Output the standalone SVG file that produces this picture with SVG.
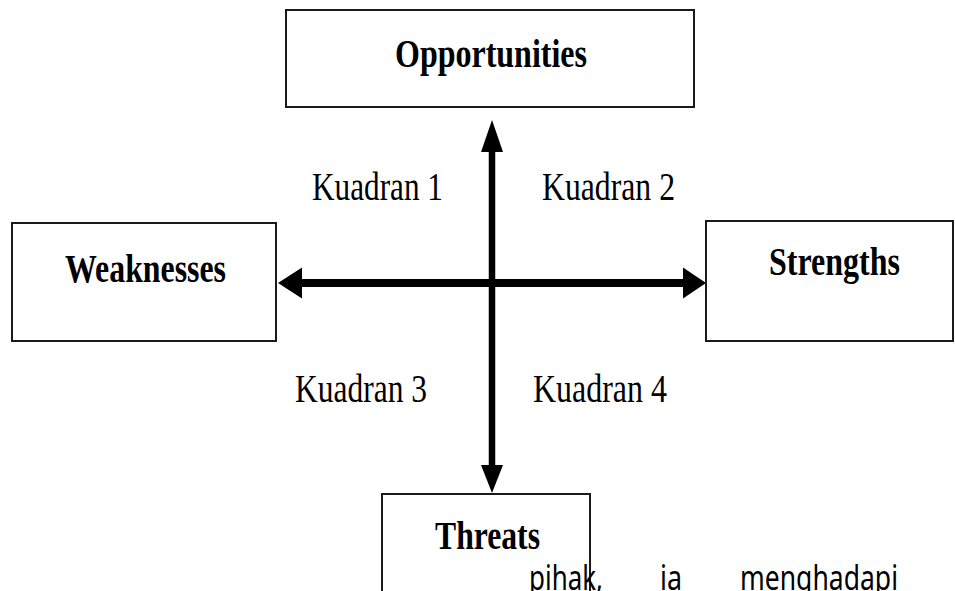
<svg xmlns="http://www.w3.org/2000/svg" width="955" height="591" viewBox="0 0 955 591">
<style>
.box{fill:#fff;stroke:#1a1a1a;stroke-width:2}
.lbl{font-family:"Liberation Serif","Times New Roman",serif;font-weight:bold;font-size:41px;fill:#000}
.q{font-family:"Liberation Serif","Times New Roman",serif;font-size:41px;fill:#000}
.body{font-family:"Noto Sans","Open Sans",sans-serif;font-size:34px;fill:#000}
.shaft{stroke:#000;fill:none}
.head{fill:#000}
</style>
<rect width="955" height="591" fill="#fff"/>
<g id="connectors">
<line class="shaft" x1="492" y1="140" x2="492" y2="473" stroke-width="6.5"/>
<line class="shaft" x1="296" y1="283" x2="688" y2="283" stroke-width="8"/>
<polygon class="head" points="492,120 481,152 503,152"/>
<polygon class="head" points="492,493 481,465 503,465"/>
<polygon class="head" points="278,283 302,267.5 302,298.5"/>
<polygon class="head" points="706,283 683,267.5 683,298.5"/>
</g>
<g id="opportunities">
<rect class="box" x="286" y="10" width="408" height="97"/>
<text class="lbl" x="395" y="67" textLength="192" lengthAdjust="spacingAndGlyphs">Opportunities</text>
</g>
<g id="weaknesses">
<rect class="box" x="12" y="223" width="264" height="118"/>
<text class="lbl" x="65" y="282" textLength="161" lengthAdjust="spacingAndGlyphs">Weaknesses</text>
</g>
<g id="strengths">
<rect class="box" x="706" y="221" width="247" height="120"/>
<text class="lbl" x="769" y="275" textLength="131" lengthAdjust="spacingAndGlyphs">Strengths</text>
</g>
<g id="threats">
<rect class="box" x="382" y="494" width="208" height="110"/>
<text class="lbl" x="435" y="549" textLength="105" lengthAdjust="spacingAndGlyphs">Threats</text>
</g>
<g id="quadrants">
<text class="q" x="312" y="200" textLength="131" lengthAdjust="spacingAndGlyphs">Kuadran 1</text>
<text class="q" x="542" y="200" textLength="133" lengthAdjust="spacingAndGlyphs">Kuadran 2</text>
<text class="q" x="295" y="402" textLength="132" lengthAdjust="spacingAndGlyphs">Kuadran 3</text>
<text class="q" x="533" y="402" textLength="134" lengthAdjust="spacingAndGlyphs">Kuadran 4</text>
</g>
<g id="body-text">
<text class="body" x="529" y="590" textLength="74" lengthAdjust="spacingAndGlyphs">pihak,</text>
<text class="body" x="660" y="590" textLength="22" lengthAdjust="spacingAndGlyphs">ia</text>
<text class="body" x="740" y="590" textLength="158" lengthAdjust="spacingAndGlyphs">menghadapi</text>
</g>
</svg>
